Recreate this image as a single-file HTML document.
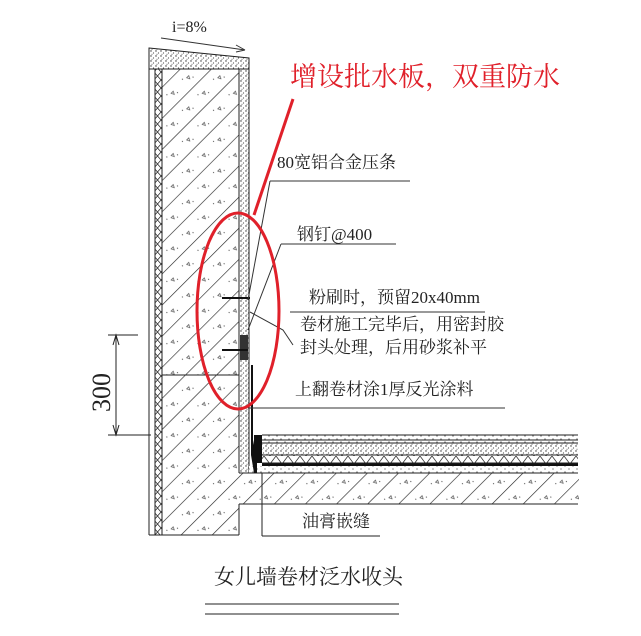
<!DOCTYPE html>
<html><head><meta charset="utf-8"><style>
html,body{margin:0;padding:0;background:#fff;width:641px;height:636px;overflow:hidden}
svg{display:block}
text{font-family:"Liberation Serif","Noto Serif CJK SC","Noto Sans CJK SC",serif;fill:#222}
</style></head><body>
<svg width="641" height="636" viewBox="0 0 641 636" xmlns="http://www.w3.org/2000/svg">
<defs>
<pattern id="hatch" width="22" height="22" patternUnits="userSpaceOnUse" patternTransform="rotate(-45)">
<rect width="22" height="22" fill="#fff"/><line x1="0" y1="0" x2="22" y2="0" stroke="#222" stroke-width="1.2"/>
<circle cx="7" cy="9" r="0.6" fill="#555"/><circle cx="16" cy="15" r="0.6" fill="#555"/>
<path d="M11 11 l3 0 l-1.5 3 z" fill="none" stroke="#555" stroke-width="0.7"/>
</pattern>
<pattern id="dots" width="5" height="5" patternUnits="userSpaceOnUse">
<rect width="5" height="5" fill="#fff"/><circle cx="1" cy="1" r="0.7" fill="#333"/><circle cx="3.5" cy="3" r="0.6" fill="#555"/><circle cx="2" cy="4.3" r="0.5" fill="#444"/>
</pattern>
<pattern id="dotsl" width="8" height="6" patternUnits="userSpaceOnUse">
<rect width="8" height="6" fill="#fff"/><circle cx="1" cy="1" r="0.6" fill="#444"/><circle cx="5" cy="4" r="0.6" fill="#444"/>
</pattern>
<pattern id="xx" width="7" height="8" patternUnits="userSpaceOnUse">
<rect width="7" height="8" fill="#fff"/><path d="M0 0 L7 8 M7 0 L0 8" stroke="#333" stroke-width="0.8"/>
</pattern>
<pattern id="zig" width="12" height="8" patternUnits="userSpaceOnUse">
<rect width="12" height="8" fill="#fff"/><path d="M0 0 L6 8 L12 0" stroke="#333" fill="none" stroke-width="0.8"/>
</pattern>
</defs>

<rect x="162" y="69" width="77" height="466" fill="url(#hatch)"/>
<rect x="155" y="69" width="7" height="466" fill="url(#xx)"/>
<rect x="239" y="69" width="10" height="404" fill="url(#dots)"/>
<path d="M149 48 L249 58 L249 69 L149 69 Z" fill="url(#dots)" stroke="#222" stroke-width="1"/>
<g stroke="#222" stroke-width="1" fill="none">
<line x1="149" y1="69" x2="149" y2="535"/>
<line x1="155" y1="69" x2="155" y2="535"/>
<line x1="162" y1="69" x2="162" y2="535"/>
<line x1="239" y1="69" x2="239" y2="473"/>
<line x1="249" y1="69" x2="249" y2="473"/>
<line x1="149" y1="535" x2="239" y2="535"/>
<line x1="162" y1="375" x2="239" y2="375"/>
<line x1="239" y1="504" x2="239" y2="535"/>
</g>
<rect x="239" y="473" width="340" height="31" fill="url(#hatch)"/>
<rect x="262" y="435" width="316" height="8" fill="url(#dotsl)"/>
<rect x="262" y="443" width="316" height="12" fill="url(#dots)"/>
<rect x="262" y="455" width="316" height="8" fill="url(#zig)"/>
<rect x="262" y="463" width="316" height="3" fill="#111"/>
<rect x="249" y="466" width="329" height="7" fill="url(#dotsl)"/>
<g stroke="#222" stroke-width="1" fill="none">
<line x1="262" y1="435" x2="578" y2="435"/>
<line x1="262" y1="440" x2="578" y2="440"/>
<line x1="262" y1="443" x2="578" y2="443"/>
<line x1="262" y1="455" x2="578" y2="455"/>
<line x1="262" y1="463" x2="578" y2="463"/>
<line x1="249" y1="473" x2="578" y2="473"/>
<line x1="239" y1="504" x2="578" y2="504"/>
<line x1="239" y1="473" x2="249" y2="473"/>
</g>
<path d="M251 365 L253 365 L253 440 L257 460 L257 473 L254 473 L251 455 Z" fill="#111"/>
<rect x="254" y="435" width="8" height="28" fill="#111"/>
<rect x="240" y="335" width="8" height="25" fill="#333"/>
<line x1="222" y1="298" x2="250" y2="298" stroke="#111" stroke-width="2"/>
<line x1="222" y1="350" x2="248" y2="350" stroke="#111" stroke-width="2"/>
<line x1="262" y1="473" x2="262" y2="536" stroke="#222"/>
<line x1="262" y1="536" x2="380" y2="536" stroke="#222"/>

<line x1="161" y1="38" x2="245" y2="50" stroke="#333"/>
<path d="M245 50 L236 45 M245 50 L236 52" stroke="#333" fill="none"/>
<text x="172" y="32" font-size="16" font-family="Liberation Sans,sans-serif">i=8%</text>

<g stroke="#222" fill="none">
<line x1="116" y1="335" x2="116" y2="435"/>
<line x1="108" y1="335" x2="138" y2="335"/>
<line x1="108" y1="435" x2="151" y2="435"/>
<path d="M113 345 L116 335 L119 345 M113 425 L116 435 L119 425"/>
</g>
<text x="0" y="0" font-size="26" font-family="Liberation Sans,sans-serif" transform="translate(110,412) rotate(-90)" fill="#333">300</text>

<g stroke="#333" stroke-width="1" fill="none">
<line x1="270" y1="181" x2="410" y2="181"/>
<line x1="270" y1="181" x2="248" y2="300"/>
<line x1="281" y1="244" x2="396" y2="244"/>
<line x1="281" y1="244" x2="248" y2="330"/>
<line x1="290" y1="312" x2="485" y2="312"/>
<path d="M250 312 L283 330 L293 345"/>
<line x1="249" y1="408" x2="505" y2="408"/>
</g>
<text x="277" y="168" font-size="17">80宽铝合金压条</text>
<text x="297" y="240" font-size="17">钢钉@400</text>
<text x="309" y="303" font-size="17">粉刷时，预留20x40mm</text>
<text x="300" y="330" font-size="17">卷材施工完毕后，用密封胶</text>
<text x="300" y="353" font-size="17">封头处理，后用砂浆补平</text>
<text x="295" y="395" font-size="17">上翻卷材涂1厚反光涂料</text>
<text x="302" y="527" font-size="17">油膏嵌缝</text>

<text x="214" y="584" font-size="21" font-family="Liberation Sans,Noto Sans CJK SC,sans-serif" fill="#333">女儿墙卷材泛水收头</text>
<line x1="205" y1="604" x2="399" y2="604" stroke="#222"/>
<line x1="205" y1="614" x2="399" y2="614" stroke="#222"/>

<ellipse cx="238" cy="311" rx="41" ry="98" fill="none" stroke="#e0202a" stroke-width="3"/>
<line x1="254" y1="215" x2="293" y2="99" stroke="#e0202a" stroke-width="3"/>
<text x="290" y="86" font-size="27" textLength="270" font-family="Liberation Sans,Noto Sans CJK SC,sans-serif" style="fill:#e0202a">增设批水板，双重防水</text>
</svg>
</body></html>
